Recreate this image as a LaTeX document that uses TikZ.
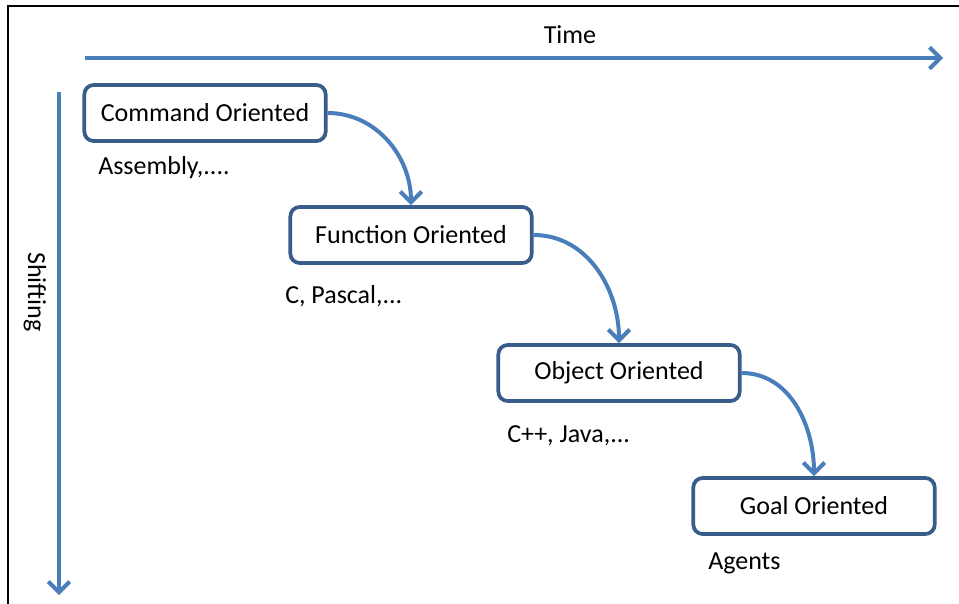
\documentclass[tikz,border=0pt]{standalone}
\usepackage{fontspec}
\setmainfont{Carlito}
\usetikzlibrary{arrows.meta}
\definecolor{arrowblue}{HTML}{4A7EBB}
\definecolor{boxblue}{HTML}{385D8A}
\begin{document}
\begin{tikzpicture}[x=0.75pt,y=-0.75pt,font=\fontsize{19.5}{23}\selectfont,
  paradigm/.style={draw=boxblue,line width=2.8pt,rounded corners=7pt,fill=white,
    minimum width=181pt,minimum height=42pt,inner sep=0pt},
  example/.style={anchor=west,inner sep=0pt},
  flow/.style={draw=arrowblue,line width=3pt,-{Straight Barb[length=8pt,width=16pt]}}]
\useasboundingbox (0,0) rectangle (959,603);
\draw[line width=1.5pt] (8,610) -- (8,6) -- (965,6);
% axes
\coordinate (t0) at (85,58);
\coordinate (t1) at (943,58);
\coordinate (s0) at (59,92);
\coordinate (s1) at (59,595);
\draw[flow] (t0) -- (t1);
\draw[flow] (s0) -- (s1);
\node (time) at (570,35) {Time};
\node[rotate=-90] (shift) at (35,292) {Shifting};
% paradigms
\node[paradigm] (cmd) at (205,113) {Command Oriented};
\node[paradigm] (fun) at (411,235) {Function Oriented};
\node[paradigm] (obj) at (619,373) {Object Oriented};
\node[paradigm] (goal) at (814,506) {Goal Oriented};
\node[example] (asm) at (98,168) {Assembly,....};
\node[example] (pas) at (285,296) {C, Pascal,...};
\node[example] (cpp) at (507,436) {C++, Java,...};
\node[example] (agt) at (708,563) {Agents};
\draw[flow] (cmd.east) to[out=0,in=90] (fun.north);
\draw[flow] (fun.east) to[out=0,in=90] (obj.north);
\draw[flow] (obj.east) to[out=0,in=90] (goal.north);
\end{tikzpicture}
\end{document}
